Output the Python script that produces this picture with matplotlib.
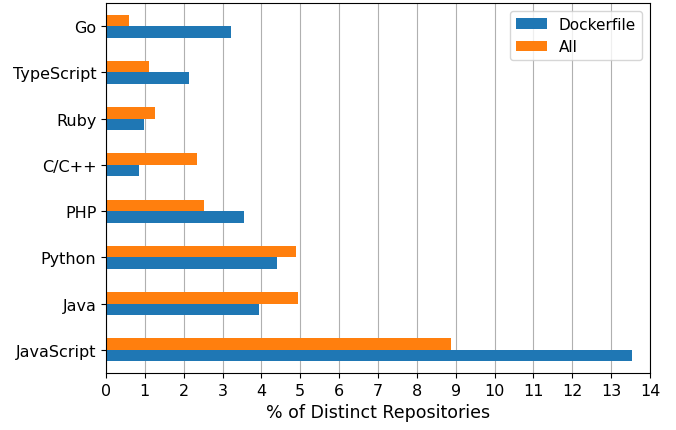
import numpy as np
import matplotlib.pyplot as plt

languages = ['JavaScript', 'Java', 'Python', 'PHP', 'C/C++', 'Ruby', 'TypeScript', 'Go']
dockerfile = [13.54, 3.93, 4.39, 3.54, 0.84, 0.97, 2.13, 3.21]
all_repos = [8.87, 4.95, 4.88, 2.51, 2.33, 1.25, 1.10, 0.58]

fig = plt.figure(figsize=(6.76, 4.31), dpi=100)
ax = fig.add_axes([0.1568, 0.1323, 0.8047, 0.8585])

y = np.arange(len(languages))
h = 0.25
ax.barh(y - h / 2, dockerfile, height=h, color='#1f77b4', label='Dockerfile')
ax.barh(y + h / 2, all_repos, height=h, color='#ff7f0e', label='All')

ax.set_yticks(y)
ax.set_yticklabels(languages, fontsize=11.5)
ax.set_ylim(-0.5, 7.5)
ax.set_xlim(0, 14)
ax.set_xticks(range(0, 15))
ax.tick_params(axis='x', labelsize=11.5)
ax.set_xlabel('% of Distinct Repositories', fontsize=12.5)
ax.set_axisbelow(True)
ax.grid(True, axis='x', color='#b0b0b0')
ax.legend(loc='upper right', fontsize=11)

fig.savefig('out.png')
